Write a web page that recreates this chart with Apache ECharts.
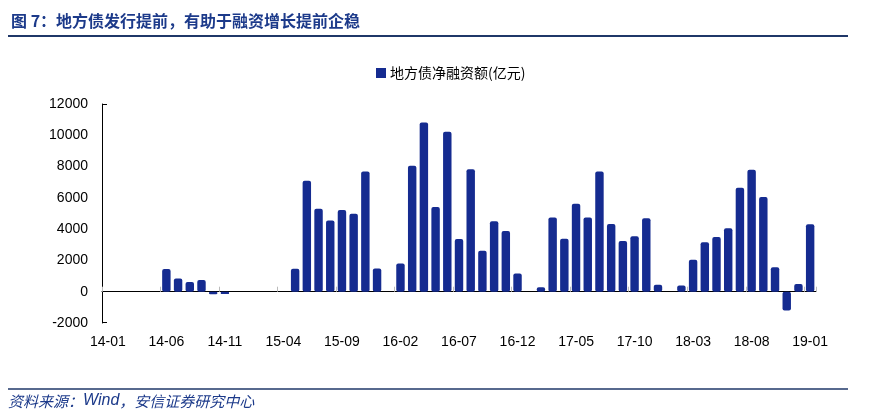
<!DOCTYPE html>
<html><head><meta charset="utf-8">
<script src="https://cdn.jsdelivr.net/npm/echarts@6/dist/echarts.min.js"></script>
<style>html,body{margin:0;padding:0;background:#fff}#c{width:871px;height:420px}</style>
</head><body><div id="c"></div>
<script>
const months = [];
for (let y = 14; y <= 19; y++) { for (let m = 1; m <= 12; m++) { if (y === 19 && m > 1) break; months.push(y + '-' + (m < 10 ? '0' + m : m)); } }
const seriesName = '地方债净融资额(亿元)';
const values = [
  // 2014
  0, 0, 0, 0, 0, 1450, 850, 620, 750, -170, -150, 0,
  // 2015
  0, 0, 0, 0, 1470, 7100, 5300, 4560, 5220, 4990, 7680, 1490,
  // 2016
  0, 1810, 8060, 10810, 5420, 10230, 3370, 7830, 2620, 4500, 3880, 1170,
  // 2017
  0, 280, 4750, 3390, 5630, 4750, 7680, 4330, 3240, 3540, 4690, 450,
  // 2018
  0, 400, 2050, 3160, 3500, 4050, 6650, 7800, 6060, 1560, -1200, 490,
  // 2019
  4310
];
const yTicks = { min: -2000, max: 12000, interval: 2000 };
const titleText = '图 7：地方债发行提前，有助于融资增长提前企稳';
const sourceText = '{a|资料来源：}{b|Wind}{a|，安信证券研究中心}';

const chart = echarts.init(document.getElementById('c'), null, { renderer: 'canvas' });
chart.setOption({
  animation: false,
  backgroundColor: '#fff',
  title: {
    text: titleText, left: 6, top: 8,
    textStyle: { fontFamily: '"Noto Sans CJK SC", sans-serif', fontSize: 16, fontWeight: 'bold', color: '#1c3a8a' }
  },
  legend: {
    data: [seriesName], top: 61, left: 371, itemWidth: 10, itemHeight: 10, itemGap: 4,
    icon: 'rect',
    textStyle: { fontFamily: '"Noto Sans CJK SC", sans-serif', fontSize: 14, color: '#000', padding: [0,0,0,-1] }
  },
  grid: { left: 102, right: 55, top: 104, bottom: 97 },
  xAxis: {
    type: 'category', data: months, boundaryGap: true,
    axisLine: { onZero: true, lineStyle: { color: '#000', width: 1 } },
    axisTick: { show: true, interval: 4, inside: true, length: 5, lineStyle: { color: '#bbb' } },
    axisLabel: { interval: 4, margin: 12, fontFamily: '"Liberation Sans", Arial, sans-serif', fontSize: 14, color: '#000' }
  },
  yAxis: {
    type: 'value', min: yTicks.min, max: yTicks.max, interval: yTicks.interval,
    axisLine: { show: true, lineStyle: { color: '#000', width: 1 } },
    axisTick: { show: false },
    splitLine: { show: false },
    axisLabel: { margin: 14, formatter: v => String(v), fontFamily: '"Liberation Sans", Arial, sans-serif', fontSize: 14, color: '#000' }
  },
  series: [{
    name: seriesName, type: 'bar', data: values, barCategoryGap: '28%',
    itemStyle: { color: '#152b90', borderRadius: 2 }
  }],
  graphic: [
    { type: 'line', shape: { x1: 8, y1: 36, x2: 848, y2: 36 }, style: { stroke: '#1f3768', lineWidth: 2 } },
    { type: 'line', shape: { x1: 8, y1: 389, x2: 848, y2: 389 }, style: { stroke: '#1f3768', lineWidth: 1.5 } },
    { type: 'line', shape: { x1: 102, y1: 104.5, x2: 107, y2: 104.5 }, style: { stroke: '#000', lineWidth: 1 } },
    { type: 'line', shape: { x1: 102, y1: 322.5, x2: 107, y2: 322.5 }, style: { stroke: '#000', lineWidth: 1 } },
    { type: 'text', left: 8, top: 393, style: {
        text: sourceText,
        rich: {
          a: { fontFamily: '"Noto Sans CJK SC", sans-serif', fontStyle: 'italic', fontSize: 15, fill: '#1c3a8a', color: '#1c3a8a' },
          b: { fontFamily: '"Liberation Sans", Arial, sans-serif', fontStyle: 'italic', fontSize: 16, fill: '#1c3a8a', color: '#1c3a8a' }
        }
    } }
  ]
});
</script></body></html>
